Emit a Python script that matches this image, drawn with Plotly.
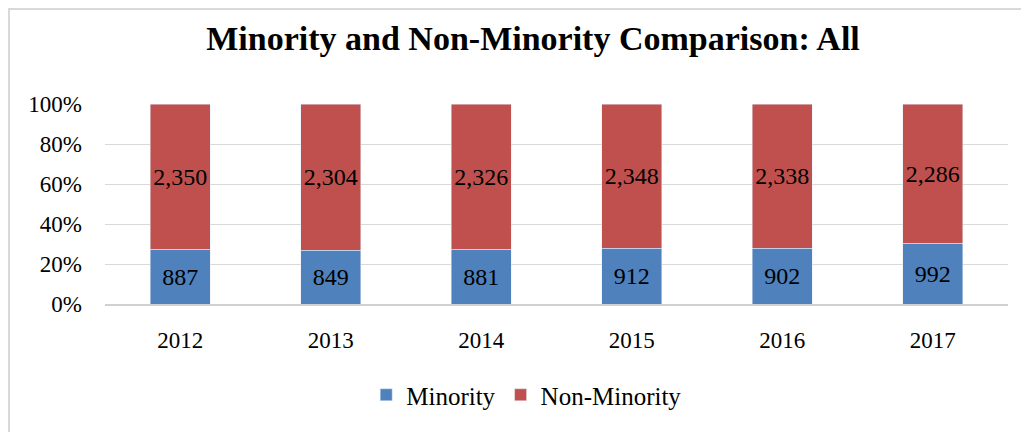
import plotly.graph_objects as go

years = ["2012", "2013", "2014", "2015", "2016", "2017"]
minority = [887, 849, 881, 912, 902, 992]
non_minority = [2350, 2304, 2326, 2348, 2338, 2286]

FONT = "Liberation Serif"
# page body has an 8px margin, so the figure is 8px smaller than the window
W, H = 1021, 424
L, R, T, B = 97, 21, 96, 128

fig = go.Figure()
for name, vals, col in [("Minority", minority, "#4f81bd"), ("Non-Minority", non_minority, "#c0504d")]:
    fig.add_trace(go.Bar(x=years, y=vals, name=name, marker_color=col,
                         text=[f"{v:,}" for v in vals], textposition="inside", textangle=0,
                         insidetextanchor="middle", constraintext="none",
                         textfont=dict(color="black", size=24, family=FONT)))

pw = W - L - R
ph = H - T - B
fig.update_layout(
    width=W, height=H, barmode="stack", barnorm="percent", bargap=0.6,
    margin=dict(l=L, r=R, t=T, b=B, autoexpand=False),
    paper_bgcolor="white", plot_bgcolor="white",
    font=dict(family=FONT, size=23, color="black"),
    title=dict(text="<b>Minority and Non-Minority Comparison: All</b>", x=0.474, xanchor="center",
               xref="paper", y=1 - 30 / H, yanchor="middle", font=dict(size=34, family=FONT)),
    legend=dict(orientation="h", x=0.467, xanchor="center", y=-(395 - 304) / ph, yanchor="middle",
                font=dict(size=25, family=FONT), traceorder="normal"),
    uniformtext=dict(mode="show", minsize=10),
)
fig.update_yaxes(range=[0, 100], tickvals=[0, 20, 40, 60, 80, 100],
                 ticktext=["0%", "20%", "40%", "60%", "80%", "100%"],
                 showgrid=True, gridcolor="#d9d9d9", gridwidth=1, zeroline=False,
                 ticks="", tickfont=dict(size=23), automargin=False, ticklabelstandoff=22)
fig.update_xaxes(showline=True, linecolor="#d0d0d0", linewidth=2, ticks="",
                 tickfont=dict(size=23), automargin=False, ticklabelstandoff=14)
# chart border
fig.add_shape(type="rect", xref="paper", yref="paper",
              x0=(1 - L) / pw, x1=(W + 10 - L) / pw,
              y0=-(B + 20) / ph, y1=(H - B - 1) / ph,
              line=dict(color="#d9d9d9", width=2), fillcolor="rgba(0,0,0,0)", layer="below")
fig.write_html("out.html")
